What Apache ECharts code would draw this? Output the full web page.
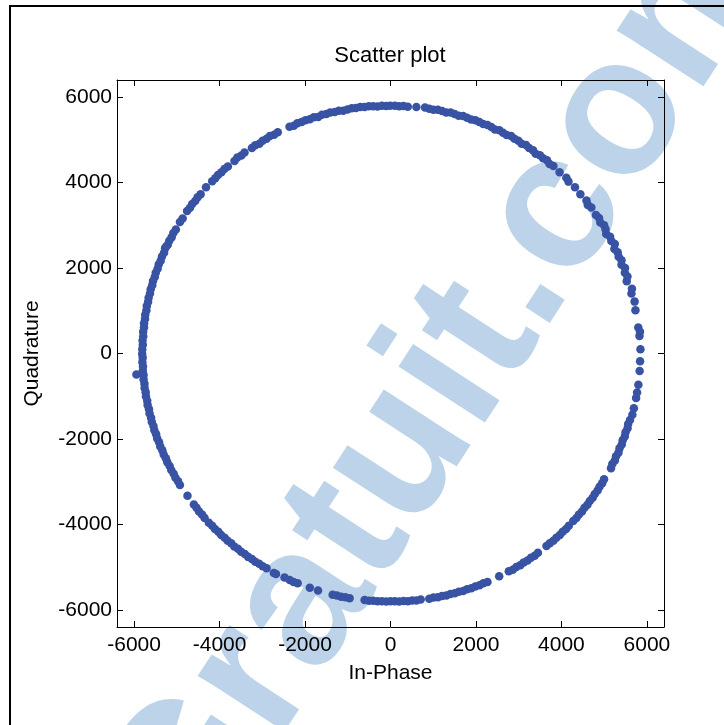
<!DOCTYPE html>
<html>
<head>
<meta charset="utf-8">
<title>Scatter plot</title>
<script src="https://cdn.jsdelivr.net/npm/echarts@6/dist/echarts.min.js"></script>
<style>
  html, body { margin: 0; padding: 0; background: #fff; }
  #chart { width: 724px; height: 725px; }
</style>
</head>
<body>
<div id="chart"></div>
<script>
// In-phase / quadrature samples (received constellation)
const inPhase = [
  5849, 5826, 5838, 5798, 5732, 5712, 5638, 5650, 5528, 5545, 5484, 5488, 5406, 5406, 5339, 5316, 5239, 5249, 5168, 5139, 5047, 5032, 4998, 4910, 4881, 4808,
  4700, 4616, 4586, 4443, 4317, 4165, 4115, 3956, 3812, 3722, 3663, 3571, 3496, 3397, 3333, 3243, 3170, 3068, 2992, 2900, 2822, 2718, 2633, 2547, 2443, 2359, 2270, 2169, 2079, 1987, 1885, 1792, 1699, 1595, 1501, 1405, 1303, 1206, 1109, 1005, 907, 808, 606, 404, 304, 202, 101,
  -10, -101, -202, -304, -405, -506, -606, -707, -807, -908, -1007, -1105, -1210, -1305, -1410, -1501, -1604, -1690, -1795, -1888, -1990, -2079, -2180, -2262, -2363,
  -2638, -2723, -2822, -2900, -2992, -3068, -3165, -3243,
  -3416, -3490, -3584, -3650,
  -3805, -3887, -3956, -4036, -4101, -4172,
  -4317,
  -4443, -4514, -4570, -4640, -4692, -4760,
  -4864, -4927,
  -5023, -5082, -5121, -5177, -5213, -5275, -5255, -5298, -5348, -5378, -5424, -5450, -5493, -5516, -5557, -5575, -5612, -5628, -5660, -5673, -5703, -5712, -5739, -5744, -5767, -5768, -5788, -5786, -5802, -5796, -5809,
  -5810, -5799, -5806, -5792, -5796, -5778, -5778, -5757, -5754, -5729, -5722, -5693, -5683, -5651, -5638, -5602, -5585, -5547, -5526, -5484, -5460, -5415, -5388, -5339, -5307, -5257, -5222, -5168, -5130, -5073, -5032, -4972, -4927,
  -4751,
  -4601, -4539, -4480, -4410, -4350, -4250, -4172, -4108, -4029, -3962, -3881, -3811, -3728, -3656, -3571, -3496, -3409, -3333, -3243, -3165, -3073, -2992, -2900,
  -2730, -2680,
  -2479, -2359, -2270, -2173,
  -1888, -1696,
  -1354, -1256, -1157, -1057, -957,
  -606, -506, -405, -304, -202, -101, 0,
  -5945,
  101, 202, 304, 405, 506, 606, 707,
  907, 1007, 1109, 1206, 1307, 1403, 1504, 1598, 1699, 1792, 1891, 1984, 2083, 2173, 2270,
  2543,
  2768, 2862, 2944, 3036, 3116, 3207, 3285, 3374, 3450,
  3650, 3728, 3811, 3881, 3962, 4029, 4108, 4172,
  4276, 4350, 4410, 4481, 4539, 4608, 4662, 4730, 4780, 4846, 4891, 4953, 4997,
  5160, 5191, 5250, 5278, 5334, 5359, 5412, 5433, 5482, 5500, 5547, 5561, 5604,
  5660, 5695, 5747, 5770, 5800, 5830, 5840
];
const quadrature = [
  102, 408, 511, 609, 1011, 1214, 1405, 1514, 1690, 1801, 1888, 1998, 2075, 2184, 2266, 2367, 2443, 2561, 2633, 2732, 2798, 2905, 3002, 3068, 3170, 3243,
  3415, 3478, 3583, 3728, 3888, 4022, 4115, 4242, 4385, 4435, 4522, 4570, 4640, 4676, 4759, 4808, 4881, 4910, 4981, 5023, 5090, 5112, 5168, 5222, 5239, 5298, 5348, 5369, 5415, 5459, 5475, 5516, 5557, 5565, 5602, 5638, 5641, 5673, 5703, 5702, 5729, 5754, 5768, 5776, 5792, 5786, 5799,
  5795, 5789, 5796, 5782, 5786, 5788, 5768, 5767, 5744, 5739, 5712, 5683, 5683, 5651, 5638, 5602, 5585, 5537, 5526, 5484, 5460, 5415, 5388, 5329, 5308,
  5178, 5121, 5090, 5023, 4981, 4910, 4874, 4808,
  4702, 4632, 4587, 4507,
  4377, 4317, 4242, 4179, 4101, 4029,
  3888,
  3728, 3656, 3571, 3496, 3409, 3333,
  3159, 3079,
  2900, 2817, 2723, 2638, 2543, 2460, 2500, 2359, 2270, 2173, 2083, 1984, 1891, 1792, 1699, 1598, 1504, 1403, 1307, 1206, 1109, 1007, 908, 807, 708, 606, 507, 405, 304, 202, 101,
  -10, -101, -202, -304, -406, -506, -607, -707, -808, -907, -1009, -1107, -1208, -1305, -1405, -1501, -1601, -1696, -1795, -1888, -1987, -2079, -2177, -2266, -2363, -2451, -2547, -2633, -2728, -2812, -2905, -2987, -3079,
  -3327,
  -3531, -3611, -3695, -3767, -3850, -3963, -4029, -4108, -4172, -4249, -4310, -4384, -4443, -4514, -4570, -4640, -4692, -4759, -4808, -4874, -4918, -4981, -5023,
  -5135, -5160,
  -5244, -5298, -5349, -5378,
  -5484, -5547,
  -5645, -5662, -5690, -5703, -5725,
  -5768, -5788, -5786, -5797, -5796, -5804, -5800,
  -492,
  -5799, -5806, -5792, -5796, -5778, -5778, -5757,
  -5739, -5712, -5703, -5673, -5660, -5628, -5612, -5575, -5557, -5516, -5493, -5450, -5424, -5378, -5348,
  -5213,
  -5097, -5058, -4997, -4953, -4891, -4846, -4780, -4730, -4662,
  -4507, -4443, -4384, -4310, -4249, -4172, -4108, -4029,
  -3919, -3850, -3767, -3695, -3611, -3537, -3450, -3374, -3285, -3207, -3116, -3036, -2944,
  -2686, -2588, -2504, -2405, -2320, -2220, -2132, -2032, -1941, -1840, -1749, -1647, -1554,
  -1432, -1283, -1044, -913, -732, -408, -183
];

// Axis tick values, shared by both axes
const tickValues = [-6000, -4000, -2000, 0, 2000, 4000, 6000];
const axisMin = -6400;
const axisMax = 6400;

const FONT = '"Liberation Sans", Arial, Helvetica, sans-serif';

const points = inPhase.map((x, i) => [x, quadrature[i]]);

function boxAxis(position, showLabels, name) {
  const horizontal = position === 'bottom' || position === 'top';
  return {
    type: 'value',
    position: position,
    min: axisMin,
    max: axisMax,
    axisLine: { show: true, onZero: false, lineStyle: { color: '#000', width: 1 } },
    axisTick: {
      show: true, inside: true, length: 6,
      customValues: tickValues,
      lineStyle: { color: '#000', width: 1 }
    },
    axisLabel: {
      show: showLabels,
      customValues: tickValues,
      formatter: (v) => String(v),
      color: '#000',
      fontFamily: FONT,
      fontSize: 21,
      margin: horizontal ? 8 : 5
    },
    splitLine: { show: false },
    name: name || '',
    nameLocation: 'middle',
    nameGap: horizontal ? 36 : 74,
    nameRotate: horizontal ? 0 : 90,
    nameTextStyle: { color: '#000', fontFamily: FONT, fontSize: 21 }
  };
}

const chart = echarts.init(document.getElementById('chart'), null, { renderer: 'canvas' });
chart.setOption({
  animation: false,
  backgroundColor: '#fff',
  title: {
    text: 'Scatter plot',
    left: 390,
    top: 45,
    textAlign: 'center',
    padding: 0,
    textStyle: { color: '#000', fontFamily: FONT, fontSize: 22, fontWeight: 'normal' }
  },
  graphic: [
    {
      // light site stamp running diagonally behind the plot
      type: 'text',
      z: -10,
      x: 231,
      y: 894,
      rotation: 57 * Math.PI / 180,
      style: {
        text: 'Gratuit.com',
        font: 'bold 195px "Liberation Sans", Arial, sans-serif',
        fill: '#bcd3ea',
        align: 'left', verticalAlign: 'bottom',
        textAlign: 'left', textVerticalAlign: 'bottom'
      }
    },
    {
      // page frame
      type: 'rect',
      z: 10,
      shape: { x: 10, y: 6, width: 900, height: 900 },
      style: { fill: 'none', stroke: '#000', lineWidth: 2 }
    }
  ],
  grid: { left: 117, top: 80, width: 547, height: 547, containLabel: false },
  xAxis: [boxAxis('bottom', true, 'In-Phase'), boxAxis('top', false)],
  yAxis: [boxAxis('left', true, 'Quadrature'), boxAxis('right', false)],
  series: [{
    type: 'scatter',
    xAxisIndex: 0,
    yAxisIndex: 0,
    symbol: 'circle',
    symbolSize: 8.5,
    itemStyle: { color: '#3953a4', opacity: 1 },
    emphasis: { disabled: true },
    data: points
  }]
});
</script>
</body>
</html>
